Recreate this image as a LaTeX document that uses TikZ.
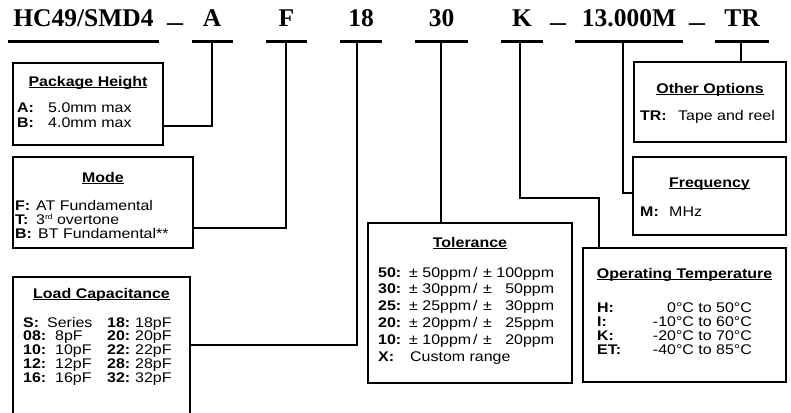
\documentclass[tikz,border=0pt]{standalone}
\usepackage{fontspec}
\setmainfont{Liberation Sans}[FakeStretch=1.14]
\newfontfamily\kodeschrift{Liberation Serif}
\usetikzlibrary{calc}

% Kastentitel fett und unterstrichen
\newcommand{\kastentitel}[1]{%
  \setbox0\hbox{\bfseries #1}\rlap{\rule[-2.2pt]{\wd0}{1.3pt}}\box0}
% kleines Hochzeichen wie im Datenblatt
\newcommand{\hoch}[1]{\raisebox{4.5pt}{\fontsize{7.5}{8}\selectfont #1}}

\begin{document}
\begin{tikzpicture}[x=1pt,y=-1pt,
  kasten/.style={draw,line width=2.6pt,inner sep=0pt},
  titel/.style={font=\fontsize{14}{17}\selectfont,anchor=base,inner sep=0pt},
  schluessel/.style={font=\fontsize{14}{17}\selectfont\bfseries,anchor=base west,inner sep=0pt},
  wert/.style={font=\fontsize{14}{17}\selectfont,anchor=base west,inner sep=0pt},
  kode/.style={font=\kodeschrift\fontsize{25.5}{30}\selectfont\bfseries,anchor=base,inner sep=0pt},
  strich/.style={line width=3pt},
  verbinder/.style={line width=1.8pt}]
  \clip (0,0) rectangle (791,412);
  % Bestellschluessel oben
  \node[kode] (hc) at (83.5,27) {HC49/SMD4};
  \foreach \n/\x/\t in {ca/212/A, cf/286.5/F, c18/361/18, c30/441.5/30,
    ck/522/K, cm/629/13.000M, ctr/742/TR}{
    \node[kode] (\n) at (\x,27) {\t};
  }
  \foreach \n/\x in {d1/175, d2/558, d3/697}{
    \node[kode] (\n) at (\x,27) {\raisebox{-3.3pt}{\scalebox{1.25}[1]{–}}};
  }
  \foreach \l/\r in {8/159, 192/233, 266/307, 340/382, 415/468, 501/543,
    575/683, 715/769}{
    \draw[strich] (\l,42) -- (\r,42);
  }
  \coordinate (uA) at (212,42);
  \coordinate (uF) at (286,42);
  \coordinate (u18) at (357,42);
  \coordinate (u30) at (441,42);
  \coordinate (uK) at (520,42);
  \coordinate (uM) at (623,42);
  \coordinate (uTR) at (741,42);

  % Kaesten
  \node[kasten,minimum width=150pt,minimum height=82pt] (pkg) at (88,104) {};
  \node[kasten,minimum width=180pt,minimum height=91pt] (mode) at (103,202.5) {};
  \node[kasten,minimum width=177pt,minimum height=153pt] (load) at (101.5,353.5) {};
  \node[kasten,minimum width=204pt,minimum height=160pt] (tol) at (470,303) {};
  \node[kasten,minimum width=203pt,minimum height=134pt] (temp) at (684.5,315) {};
  \node[kasten,minimum width=153pt,minimum height=78pt] (freq) at (709.5,196) {};
  \node[kasten,minimum width=152pt,minimum height=80pt] (opts) at (710,102) {};

  % Verbindungen
  \draw[verbinder] (uA) |- ([yshift=-22pt]pkg.east);
  \draw[verbinder] (uF) |- ([yshift=-25.5pt]mode.east);
  \draw[verbinder] (u18) |- ([yshift=8.5pt]load.east);
  \draw[verbinder] (u30) -- (u30 |- tol.north);
  \coordinate (kknick) at (599,198);
  \draw[verbinder] (uK) |- (kknick) -- (kknick |- temp.north);
  \draw[verbinder] (uM) |- ([yshift=3pt]freq.west);
  \draw[verbinder] (uTR) -- (uTR |- opts.north);

  % Package Height
  \node[titel] (pkgt) at (88,86) {\kastentitel{Package Height}};
  \foreach \k/\v [count=\i] in {A/5.0mm max, B/4.0mm max}{
    \node[schluessel] (pkgk\i) at (17,97+15*\i) {\k:};
    \node[wert] (pkgw\i) at (48,97+15*\i) {\v};
  }
  % Mode
  \node[titel] (modet) at (103,182) {\kastentitel{Mode}};
  \foreach \k/\xv/\v [count=\i] in {F/36/AT Fundamental, T/36/3\hoch{rd} overtone,
    B/38/BT Fundamental**}{
    \node[schluessel] (modek\i) at (15,196+14*\i) {\k:};
    \node[wert] (modew\i) at (\xv,196+14*\i) {\v};
  }
  % Load Capacitance
  \node[titel] (loadt) at (101.5,298) {\kastentitel{Load Capacitance}};
  \foreach \k/\xv/\v/\kk/\vv [count=\i] in {S/47/Series/18/18pF, 08/55/8pF/20/20pF,
    10/55/10pF/22/22pF, 12/55/12pF/28/28pF, 16/55/16pF/32/32pF}{
    \node[schluessel] (loadk\i) at (23,313.25+13.75*\i) {\k:};
    \node[wert] (loadw\i) at (\xv,313.25+13.75*\i) {\v};
    \node[schluessel] (loadkk\i) at (107,313.25+13.75*\i) {\kk:};
    \node[wert] (loadww\i) at (135,313.25+13.75*\i) {\vv};
  }
  % Tolerance
  \node[titel] (tolt) at (470,247) {\kastentitel{Tolerance}};
  \foreach \k/\a/\b [count=\i] in {50/50/100, 30/30/\hphantom{0}50,
    25/25/\hphantom{0}30, 20/20/\hphantom{0}25, 10/10/\hphantom{0}20}{
    \node[schluessel] (tolk\i) at (378,260.2+16.8*\i) {\k:};
    \node[wert] (tola\i) at (409,260.2+16.8*\i) {± \a ppm};
    \node[wert] (tols\i) at (473,260.2+16.8*\i) {/};
    \node[wert] (tolb\i) at (483,260.2+16.8*\i) {± \b ppm};
  }
  \node[schluessel] (tolkx) at (378,361) {X:};
  \node[wert] (tolwx) at (410,361) {Custom range};
  % Operating Temperature
  \node[titel] (tempt) at (684.5,278) {\kastentitel{Operating Temperature}};
  \foreach \k/\v [count=\i] in {H/0°C to 50°C, I/-10°C to 60°C,
    K/-20°C to 70°C, ET/-40°C to 85°C}{
    \node[schluessel] (tempk\i) at (597,297.7+14.3*\i) {\k:};
    \node[wert,anchor=base east] (tempw\i) at (752,297.7+14.3*\i) {\v};
  }
  % Frequency
  \node[titel] (freqt) at (709.5,187) {\kastentitel{Frequency}};
  \node[schluessel] (freqk) at (640,216) {M:};
  \node[wert] (freqw) at (669,216) {MHz};
  % Other Options
  \node[titel] (optst) at (710,93) {\kastentitel{Other Options}};
  \node[schluessel] (optsk) at (640,120) {TR:};
  \node[wert] (optsw) at (678,120) {Tape and reel};
\end{tikzpicture}
\end{document}
